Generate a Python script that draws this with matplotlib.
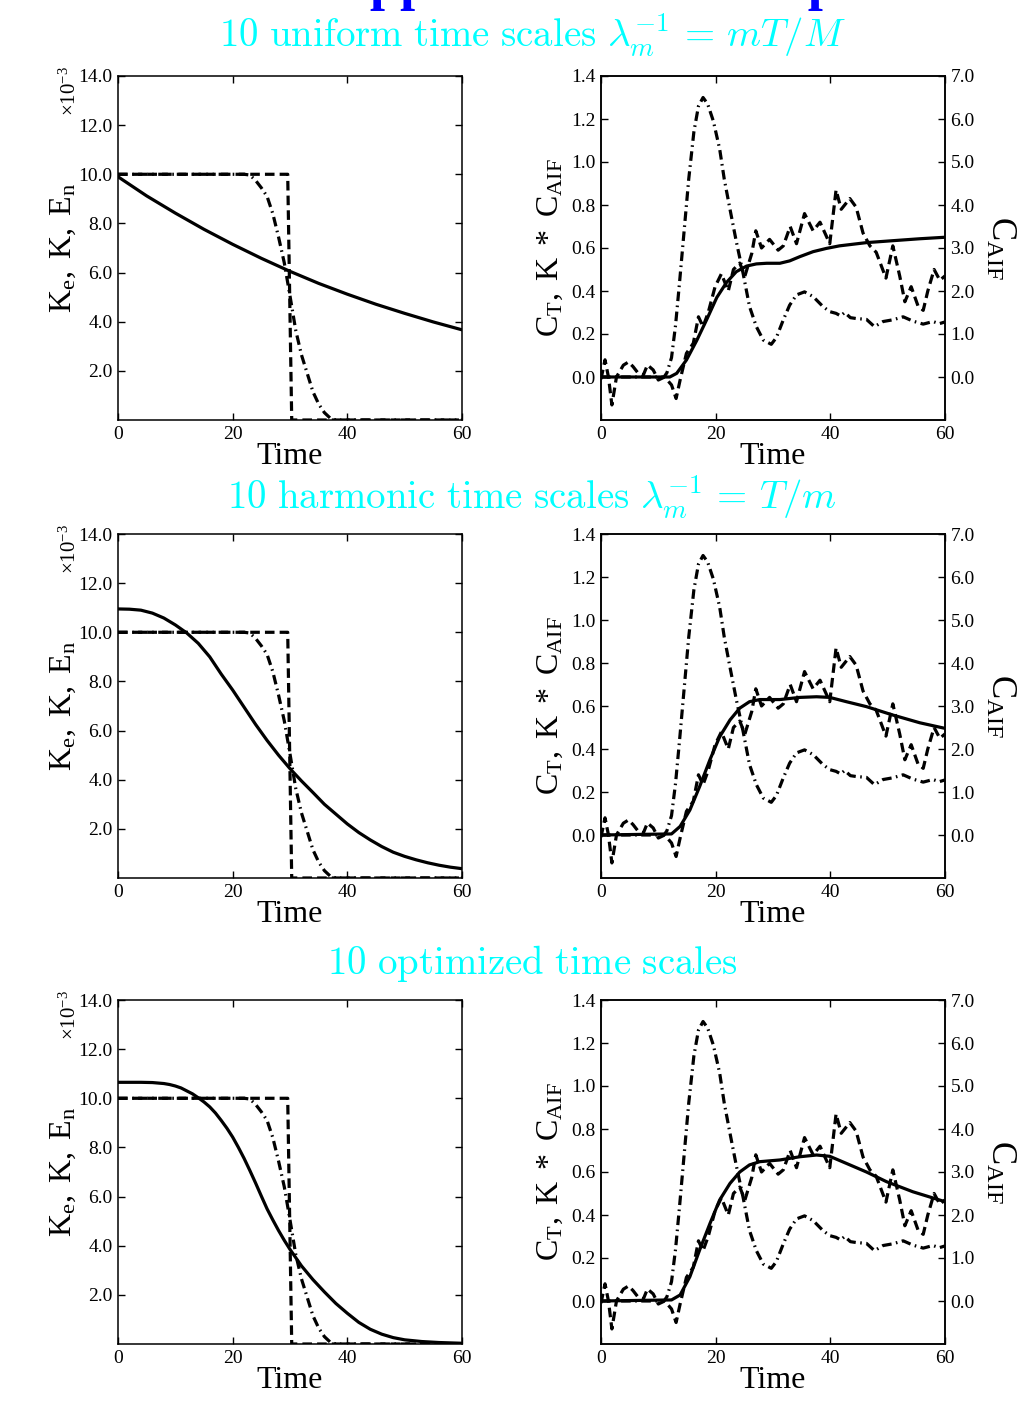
import matplotlib
matplotlib.use("Agg")
import matplotlib.pyplot as plt
from matplotlib.ticker import FormatStrFormatter

# ── Fonts ─────────────────────────────────────────────────────────
plt.rcParams["font.family"] = ["Liberation Serif", "DejaVu Serif"]
plt.rcParams["mathtext.fontset"] = "custom"
plt.rcParams["mathtext.rm"] = "Liberation Serif"
plt.rcParams["mathtext.it"] = "Liberation Serif:italic"
plt.rcParams["mathtext.bf"] = "Liberation Serif:bold"

# ── Data: kernels (units of 1e-3) ────────────────────────────────
t_step = [0, 29.6, 30.3, 60]
k_step = [10, 10, 0, 0]

t_kern = [0, 22, 23, 24, 25, 26, 27, 28, 29, 30, 31, 32, 33, 34, 35, 36, 37, 38, 60]
k_kern = [10, 10, 9.97, 9.75, 9.45, 9.1, 8.4, 7.45, 6.4, 5.05, 3.65, 2.65, 1.9,
          1.15, 0.65, 0.3, 0.08, 0, 0]

t_ke_uniform = [0, 5, 10, 15, 20, 25, 30, 35, 40, 45, 50, 55, 60]
ke_uniform = [9.9, 9.12, 8.42, 7.76, 7.15, 6.58, 6.05, 5.56, 5.12, 4.71, 4.34, 3.99, 3.67]

t_ke_harmonic = [0, 2, 4, 6, 8, 10, 12, 14, 16, 18, 20, 22, 24, 26, 28, 30, 32, 34,
                 36, 38, 40, 42, 44, 46, 48, 50, 52, 54, 56, 58, 60]
ke_harmonic = [10.95, 10.94, 10.9, 10.78, 10.58, 10.3, 9.97, 9.55, 9.0, 8.3, 7.65,
               6.95, 6.25, 5.6, 5.0, 4.45, 3.95, 3.48, 3.0, 2.6, 2.2, 1.85, 1.55,
               1.28, 1.05, 0.88, 0.74, 0.62, 0.52, 0.44, 0.38]

t_ke_optimized = [0, 4, 6, 8, 9, 10, 11, 12, 13, 14, 15, 16, 17, 18, 19, 20, 21, 22,
                  23, 24, 25, 26, 27, 28, 29, 30, 32, 34, 36, 38, 40, 42, 44, 46, 48,
                  50, 53, 56, 60]
ke_optimized = [10.65, 10.65, 10.64, 10.6, 10.56, 10.5, 10.42, 10.3, 10.18, 10.02,
                9.85, 9.65, 9.4, 9.1, 8.78, 8.42, 8.0, 7.55, 7.06, 6.55, 6.02, 5.5,
                5.05, 4.62, 4.22, 3.85, 3.18, 2.62, 2.12, 1.65, 1.25, 0.88, 0.6, 0.4,
                0.26, 0.17, 0.1, 0.06, 0.03]

# ── Data: tissue curve (noisy), AIF, fitted convolution ──────────
t_ct = [0, 0.7, 1.3, 1.9, 2.7, 3.9, 4.8, 5.6, 6.5, 7.4, 8.1, 9.1, 10, 11.1, 12.3,
        13.1, 13.8, 14.9, 16.1, 17, 17.8, 18.7, 19.9, 21.0, 22.2, 23.1, 24.2, 25.1,
        26.3, 27, 28, 29.4, 30.9, 31.8, 33, 34.1, 35.5, 37, 38.2, 39.9, 41, 41.9,
        43.4, 44.5, 45.7, 46.9, 48, 49.7, 50.9, 52.1, 53, 54.1, 55.3, 56.2, 57,
        58.1, 59.1, 60]
ct = [-0.01, 0.08, 0.0, -0.13, 0.0, 0.055, 0.07, 0.048, 0.017, 0.01, 0.056, 0.033,
      -0.014, 0.0, -0.037, -0.1, -0.014, 0.11, 0.157, 0.28, 0.234, 0.30, 0.42, 0.48,
      0.40, 0.50, 0.53, 0.47, 0.575, 0.68, 0.60, 0.64, 0.59, 0.61, 0.70, 0.62, 0.76,
      0.68, 0.72, 0.62, 0.87, 0.78, 0.83, 0.79, 0.67, 0.61, 0.58, 0.46, 0.61, 0.47,
      0.35, 0.42, 0.33, 0.31, 0.40, 0.50, 0.45, 0.47]

t_aif = [0, 11, 11.5, 12.3, 13, 13.7, 14.5, 15.3, 16.2, 17, 17.8, 18.6, 19.6, 20.7,
         21.5, 22.5, 23.6, 24.8, 25.9, 27.1, 28.3, 29.7, 30.6, 31.8, 32.9, 34.1, 35.5,
         37, 38.7, 39.9, 41, 41.8, 42.5, 43.5, 44.5, 46.3, 47.7, 49.2, 50.9, 52.7,
         54.4, 56.2, 57.9, 59, 60]
aif = [0, 0, 0.1, 0.45, 1.2, 2.2, 3.4, 4.6, 5.7, 6.3, 6.5, 6.35, 5.95, 5.3, 4.6, 3.9,
       3.15, 2.4, 1.64, 1.17, 0.86, 0.76, 0.92, 1.33, 1.67, 1.91, 1.98, 1.87, 1.64,
       1.52, 1.48, 1.42, 1.5, 1.38, 1.36, 1.34, 1.17, 1.29, 1.33, 1.40, 1.3, 1.23,
       1.29, 1.24, 1.28]

t_fit_uniform = [0, 12, 13.2, 14.9, 16.7, 18.4, 20.2, 21.9, 23.6, 25.4, 27.1, 28.9,
                 31.2, 32.9, 34.7, 37, 39.3, 41.6, 46.3, 50.9, 55.6, 60]
fit_uniform = [0, 0, 0.017, 0.079, 0.17, 0.265, 0.37, 0.44, 0.49, 0.516, 0.526, 0.529,
               0.529, 0.54, 0.56, 0.583, 0.598, 0.61, 0.625, 0.634, 0.643, 0.65]

t_fit_harmonic = [0, 12.3, 13.8, 15.5, 17.2, 19, 20.7, 22.5, 24.2, 25.9, 27.7, 31.2,
                  34.7, 37.6, 39.9, 42.8, 46.3, 50.9, 55.6, 60]
fit_harmonic = [0, 0.005, 0.04, 0.116, 0.225, 0.35, 0.457, 0.535, 0.59, 0.62, 0.63,
                0.63, 0.64, 0.643, 0.64, 0.62, 0.597, 0.558, 0.522, 0.496]

t_fit_optimized = [0, 12.3, 13.8, 15.5, 17.2, 19, 20.7, 22.5, 24.2, 25.9, 27.7, 31.2,
                   34.7, 37.6, 39.9, 42.8, 46.3, 49.8, 54.4, 60]
fit_optimized = [0, 0.005, 0.028, 0.113, 0.237, 0.36, 0.47, 0.547, 0.60, 0.633, 0.648,
                 0.656, 0.671, 0.679, 0.673, 0.64, 0.60, 0.555, 0.508, 0.462]

row_titles = [
    r"$\mathrm{10\ uniform\ time\ scales}\ \lambda_m^{-1}\,=\,mT/M$",
    r"$\mathrm{10\ harmonic\ time\ scales}\ \lambda_m^{-1}\,=\,T/m$",
    r"$\mathrm{10\ optimized\ time\ scales}$",
]
ke_rows = [(t_ke_uniform, ke_uniform), (t_ke_harmonic, ke_harmonic),
           (t_ke_optimized, ke_optimized)]
fit_rows = [(t_fit_uniform, fit_uniform), (t_fit_harmonic, fit_harmonic),
            (t_fit_optimized, fit_optimized)]

# ── Layout (pixels -> figure fractions) ──────────────────────────
W, H = 1025, 1412
fig = plt.figure(figsize=(W / 100, H / 100), dpi=100)

row_tops = [76, 534, 1000]
title_base = [47, 509, 974]
ax_h = 344
left_x, right_x, ax_w = 118, 601, 344

LW = 2.3
DASH = (3.0, 1.6)
DASHDOT = (3.0, 1.4, 0.5, 1.4)
TICK_FS = 14
LAB_FS = 23


def style_axis(ax):
    for sp in ax.spines.values():
        sp.set_linewidth(1.1)
    ax.tick_params(direction="in", length=5, width=1.0, labelsize=TICK_FS, pad=4)


# top title, mostly outside the picture (only descenders show, as in the source)
fig.text(331 / W, 1 + 1 / H, "Approximation of exponential kernel", color="#0000FF",
         fontsize=39, fontweight="bold", ha="left", va="baseline")

for r in range(3):
    top = row_tops[r]
    bottom_frac = 1 - (top + ax_h) / H

    fig.text(532 / W, 1 - title_base[r] / H, row_titles[r], color="#00FFFF",
             fontsize=28, ha="center", va="baseline", math_fontfamily="cm")

    # ── left panel: kernels ──
    ax = fig.add_axes([left_x / W, bottom_frac, ax_w / W, ax_h / H])
    t_ke, ke = ke_rows[r]
    ax.plot(t_ke, ke, color="black", lw=LW, solid_joinstyle="round")
    ax.plot(t_step, k_step, color="black", lw=LW, dashes=DASH)
    ax.plot(t_kern, k_kern, color="black", lw=LW, dashes=DASHDOT)
    ax.set_xlim(0, 60)
    ax.set_ylim(0, 14)
    ax.set_xticks([0, 20, 40, 60])
    ax.set_yticks([2, 4, 6, 8, 10, 12, 14])
    ax.yaxis.set_major_formatter(FormatStrFormatter("%.1f"))
    style_axis(ax)
    ax.tick_params(top=True, right=True)
    ax.set_xlabel("Time", fontsize=LAB_FS)
    ax.xaxis.set_label_coords(0.5, -0.065)
    ax.set_ylabel(r"$\mathrm{K_e,\ K,\ E_n}$", fontsize=LAB_FS)
    ax.yaxis.set_label_coords(-0.115, 0.5)
    ax.text(-0.14, 0.955, r"$\times\mathrm{10^{-3}}$", transform=ax.transAxes,
            rotation=90, ha="center", va="center", fontsize=15)

    # ── right panel: signals ──
    ax = fig.add_axes([right_x / W, bottom_frac, ax_w / W, ax_h / H])
    ax2 = ax.twinx()
    t_fit, fit = fit_rows[r]
    ax.plot(t_fit, fit, color="black", lw=LW, solid_joinstyle="round")
    ax.plot(t_ct, ct, color="black", lw=LW, dashes=DASH)
    ax2.plot(t_aif, aif, color="black", lw=LW, dashes=DASHDOT)
    ax.set_xlim(0, 60)
    ax.set_ylim(-0.2, 1.4)
    ax2.set_ylim(-1.0, 7.0)
    ax.set_xticks([0, 20, 40, 60])
    ax.set_yticks([0.0, 0.2, 0.4, 0.6, 0.8, 1.0, 1.2, 1.4])
    ax2.set_yticks([0, 1, 2, 3, 4, 5, 6, 7])
    ax.yaxis.set_major_formatter(FormatStrFormatter("%.1f"))
    ax2.yaxis.set_major_formatter(FormatStrFormatter("%.1f"))
    style_axis(ax)
    style_axis(ax2)
    ax.tick_params(top=True, right=False)
    ax.set_xlabel("Time", fontsize=LAB_FS)
    ax.xaxis.set_label_coords(0.5, -0.065)
    ax.set_ylabel(r"$\mathrm{C_T,\ K\ *\ C_{AIF}}$", fontsize=LAB_FS)
    ax.yaxis.set_label_coords(-0.105, 0.5)
    ax2.set_ylabel(r"$\mathrm{C_{AIF}}$", fontsize=LAB_FS + 2, rotation=-90,
                   va="bottom", ha="center", rotation_mode="anchor")
    ax2.yaxis.set_label_coords(1.112, 0.5)

fig.savefig("out.png", dpi=100)
